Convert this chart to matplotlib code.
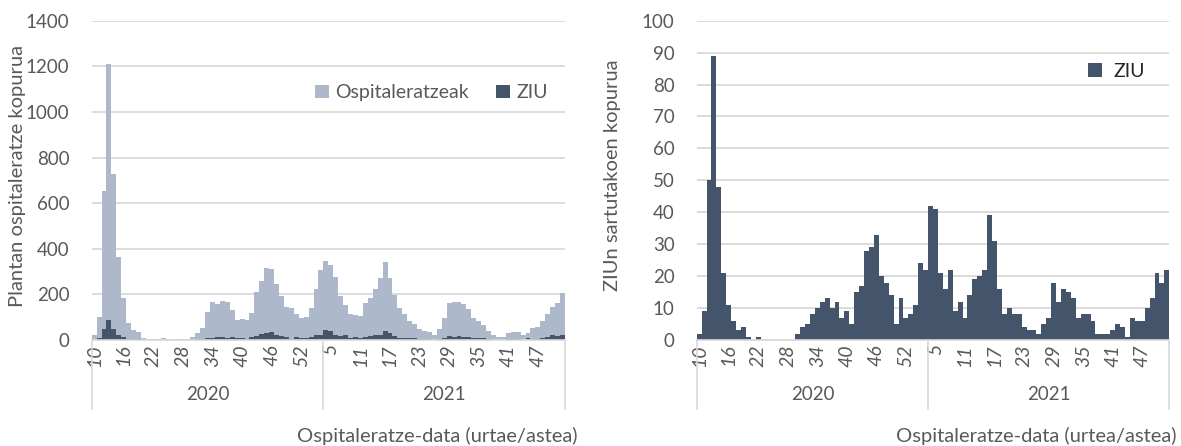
import matplotlib.pyplot as plt
import matplotlib.transforms as mtransforms
import numpy as np

plt.rcParams['font.family'] = ['Lato', 'DejaVu Sans']

# categories: weeks 2020/10..53, 2021/1..52
weeks = list(range(10, 54)) + list(range(1, 53))
year_groups = [("2020", 47), ("2021", 49)]

hosp = [20, 100, 655, 1210, 728, 364, 182, 75, 46, 36,
        7, 4, 3, 2, 8, 3, 2, 2, 3, 5,
        15, 30, 52, 123, 166, 158, 171, 165, 132, 88,
        92, 88, 117, 210, 259, 314, 313, 247, 195, 145,
        141, 114, 96, 102, 140, 225, 305, 348, 328, 278,
        194, 154, 115, 108, 104, 161, 184, 225, 272, 342,
        274, 196, 140, 113, 83, 68, 50, 40, 33, 21,
        50, 97, 163, 165, 168, 158, 136, 97, 85, 66,
        41, 22, 15, 15, 29, 35, 34, 22, 29, 51,
        58, 83, 114, 146, 161, 205]

ziu = [2, 9, 50, 89, 48, 21, 11, 6, 3, 4,
       1, 0, 1, 0, 0, 0, 0, 0, 0, 0,
       2, 4, 5, 8, 10, 12, 13, 10, 12, 7,
       9, 5, 15, 17, 28, 29, 33, 20, 18, 14,
       5, 13, 7, 8, 11, 24, 22, 42, 41, 21,
       16, 22, 9, 12, 7, 14, 19, 20, 22, 39,
       31, 16, 8, 10, 8, 8, 4, 3, 3, 2,
       5, 7, 18, 12, 16, 15, 13, 7, 8, 8,
       6, 2, 2, 2, 3, 5, 4, 1, 7, 6,
       6, 10, 13, 21, 18, 22]

light = '#adb9ca'
dark = '#44546a'
grey_txt = '#595959'
grid_c = '#d9d9d9'

x = np.arange(len(weeks))

fig = plt.figure(figsize=(11.81, 4.46), dpi=100)
ax1 = fig.add_axes([91.7 / 1181, 1 - 340 / 446, 473.3 / 1181, 319.3 / 446])
ax2 = fig.add_axes([696.7 / 1181, 1 - 340 / 446, 472.6 / 1181, 319.3 / 446])


def style_axis(ax, ymax, ystep):
    ax.set_xlim(-0.5, len(weeks) - 0.5)
    ax.set_ylim(0, ymax)
    ax.set_yticks(np.arange(0, ymax + 1, ystep))
    ax.grid(axis='y', color=grid_c, lw=1.3)
    ax.set_axisbelow(True)
    for s in ['left', 'right', 'top']:
        ax.spines[s].set_visible(False)
    ax.spines['bottom'].set_color(grid_c)
    ax.spines['bottom'].set_linewidth(1.2)
    ax.tick_params(axis='y', length=0, pad=16, labelsize=13.5, labelcolor=grey_txt)
    ax.set_xticks(x[::6])
    ax.set_xticklabels([str(w) for w in weeks[::6]], rotation=90,
                       fontstyle='italic', fontsize=14, color=grey_txt)
    ax.tick_params(axis='x', length=0, pad=3)
    # year groups below the week labels
    trans = mtransforms.blended_transform_factory(ax.transData, ax.transAxes)
    start = -0.5
    ax.plot([start, start], [0, -0.216], transform=trans, color=grid_c,
            lw=1.2, clip_on=False)
    for name, n in year_groups:
        end = start + n
        ax.plot([end, end], [0, -0.216], transform=trans, color=grid_c,
                lw=1.2, clip_on=False)
        ax.text((start + end) / 2, -0.172, name, transform=trans, ha='center',
                va='center', fontsize=13.5, color=grey_txt)
        start = end


# left: hospital admissions with ICU in front
b1 = ax1.bar(x, hosp, width=1.0, color=light, label='Ospitaleratzeak')
b2 = ax1.bar(x, ziu, width=1.0, color=dark, label='ZIU')
style_axis(ax1, 1400, 200)
ax1.legend(handles=[b1, b2], loc='center left', bbox_to_anchor=(0.472, 0.774),
           ncol=2, frameon=False, handlelength=0.7, handleheight=0.7,
           handletextpad=0.35, columnspacing=1.4, borderpad=0, borderaxespad=0,
           fontsize=14, labelcolor=grey_txt)

# right: ICU only
b3 = ax2.bar(x, ziu, width=1.0, color=dark, label='ZIU')
style_axis(ax2, 100, 10)
ax2.legend(handles=[b3], loc='center left', bbox_to_anchor=(0.828, 0.842),
           frameon=False, handlelength=0.7, handleheight=0.7,
           handletextpad=0.6, borderpad=0, borderaxespad=0,
           fontsize=14, labelcolor='#262626')

fig.text(18 / 1181, 1 - 176 / 446, 'Plantan ospitaleratze kopurua', rotation=90,
         ha='center', va='center', fontsize=14.5, color=grey_txt)
fig.text(612 / 1181, 1 - 175 / 446, 'ZIUn sartutakoen kopurua', rotation=90,
         ha='center', va='center', fontsize=14.5, color=grey_txt)
fig.text(437 / 1181, 1 - 436 / 446, 'Ospitaleratze-data (urtae/astea)',
         ha='center', va='center', fontsize=14.5, color=grey_txt)
fig.text(1036 / 1181, 1 - 436 / 446, 'Ospitaleratze-data (urtea/astea)',
         ha='center', va='center', fontsize=14.5, color=grey_txt)

fig.savefig('out.png', dpi=100)
